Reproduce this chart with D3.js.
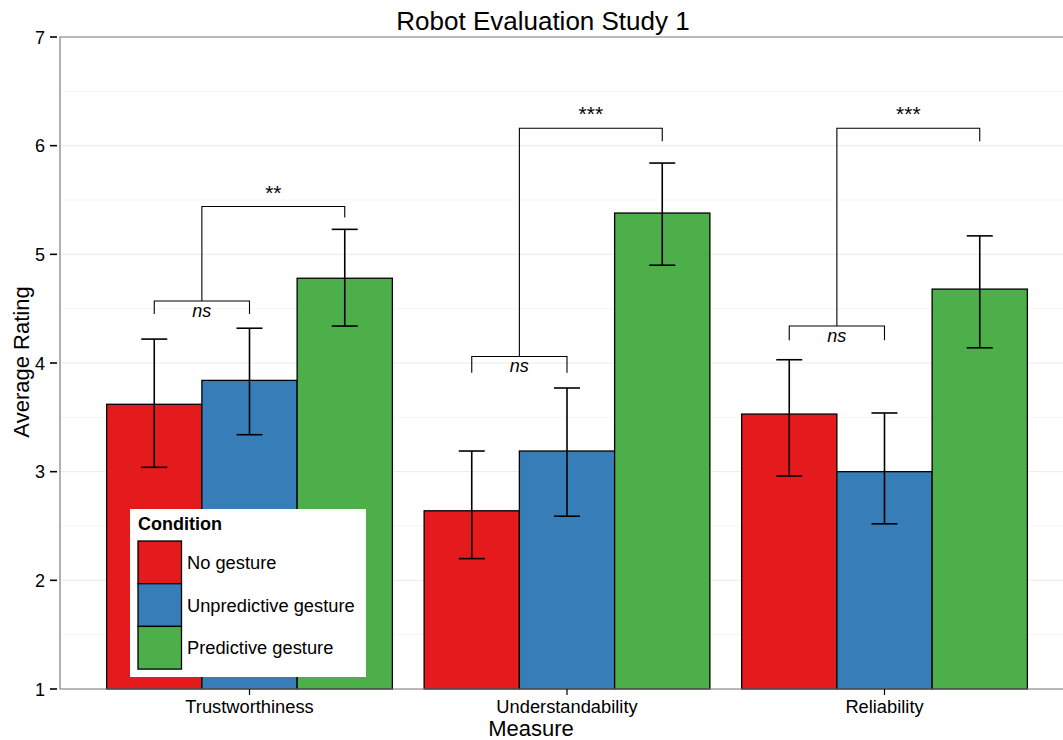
<!DOCTYPE html>
<html><head><meta charset="utf-8">
<script src="https://cdn.jsdelivr.net/npm/d3@7"></script>
<style>body{margin:0;background:#fff}svg{display:block}text{font-family:"Liberation Sans",Arial,Helvetica,sans-serif}</style>
</head><body><svg id="c" width="1063" height="740"></svg>
<script>
const measures = ["Trustworthiness","Understandability","Reliability"];
const conditions = ["No gesture","Unpredictive gesture","Predictive gesture"];
const colors = ["#e41a1c","#377eb8","#4daf4a"];
const means = {
  "No gesture":[3.62,2.64,3.53],
  "Unpredictive gesture":[3.84,3.19,3.00],
  "Predictive gesture":[4.78,5.38,4.68]
};
const lower = {
  "No gesture":[3.04,2.20,2.96],
  "Unpredictive gesture":[3.34,2.59,2.52],
  "Predictive gesture":[4.34,4.90,4.14]
};
const upper = {
  "No gesture":[4.22,3.19,4.03],
  "Unpredictive gesture":[4.32,3.77,3.54],
  "Predictive gesture":[5.23,5.84,5.17]
};
const yTicks = [1,2,3,4,5,6,7];
// significance brackets (positions in bar units from group start)
const brMeasure = ["Trustworthiness","Trustworthiness","Understandability","Understandability","Reliability","Reliability"];
const brFrom = [0.5,1.0,0.5,1.0,0.5,1.0];
const brTo = [1.5,2.5,1.5,2.5,1.5,2.5];
const brY = [4.57,5.44,4.06,6.16,4.34,6.16];
const brLeftEnd = [4.45,4.57,3.91,4.06,4.21,4.34];
const brRightEnd = [4.45,5.34,3.91,6.04,4.21,6.04];
const brLabel = ["ns","**","ns","***","ns","***"];

const svg = d3.select("#c");
const L = 60, T = 37, B = 689, R = 1063;
const X0 = 59, unit = 317.5;
const x = d3.scalePoint().domain(measures).range([X0 + 0.6*unit, X0 + 2.6*unit]);
const groupW = unit * 0.9;
const xs = d3.scaleBand().domain(conditions).range([0, groupW]).padding(0);
const y = d3.scaleLinear().domain([1,7]).range([B, T]);

// grid
const minor = d3.range(1.5, 7, 1);
svg.append("g").selectAll("line").data(minor).join("line")
  .attr("x1", L).attr("x2", R).attr("y1", d=>y(d)).attr("y2", d=>y(d))
  .attr("stroke", "#f5f5f5").attr("stroke-width", 1);
svg.append("g").selectAll("line").data(yTicks).join("line")
  .attr("x1", L).attr("x2", R).attr("y1", d=>y(d)).attr("y2", d=>y(d))
  .attr("stroke", "#ebebeb").attr("stroke-width", 1);

// bars
const bars = [];
measures.forEach((m,i)=>conditions.forEach((c,j)=>bars.push({m,c,j,v:means[c][i],lo:lower[c][i],hi:upper[c][i]})));
const gx = d => x(d.m) - groupW/2 + xs(d.c);
svg.append("g").selectAll("rect").data(bars).join("rect")
  .attr("x", d=>gx(d)).attr("width", xs.bandwidth())
  .attr("y", d=>y(d.v)).attr("height", d=>y(1)-y(d.v))
  .attr("fill", d=>colors[d.j]).attr("stroke", "#000").attr("stroke-width", 1.3);

// error bars
const eb = svg.append("g").attr("stroke","#000").attr("stroke-width",1.6);
bars.forEach(d=>{
  const c = gx(d) + xs.bandwidth()/2, hw = 13;
  eb.append("line").attr("x1",c).attr("x2",c).attr("y1",y(d.lo)).attr("y2",y(d.hi));
  eb.append("line").attr("x1",c-hw).attr("x2",c+hw).attr("y1",y(d.lo)).attr("y2",y(d.lo));
  eb.append("line").attr("x1",c-hw).attr("x2",c+hw).attr("y1",y(d.hi)).attr("y2",y(d.hi));
});

// brackets
const bw = xs.bandwidth();
brMeasure.forEach((m,i)=>{
  const x0 = x(m) - groupW/2 + brFrom[i]*bw, x1 = x(m) - groupW/2 + brTo[i]*bw;
  const yy = y(brY[i]);
  svg.append("path").attr("d",`M${x0},${y(brLeftEnd[i])}V${yy}H${x1}V${y(brRightEnd[i])}`)
    .attr("fill","none").attr("stroke","#000").attr("stroke-width",1.1);
  const ns = brLabel[i]==="ns";
  svg.append("text").attr("x",(x0+x1)/2).attr("y", ns ? yy+16 : yy-7)
    .attr("text-anchor","middle").attr("font-size", ns?18:21)
    .attr("font-style", ns?"italic":"normal")
    .attr("font-family", "'DejaVu Sans',sans-serif")
    .text(brLabel[i]);
});

// panel border/axes
svg.append("path").attr("d",`M${R},${T}H${L}V${B}H${R}`).attr("fill","none").attr("stroke","#7f7f7f").attr("stroke-width",1.2);

// y axis
const ya = svg.append("g");
yTicks.forEach(t=>{
  ya.append("line").attr("x1",L-10).attr("x2",L-3).attr("y1",y(t)).attr("y2",y(t)).attr("stroke","#000").attr("stroke-width",1.6);
  ya.append("text").attr("x",L-15).attr("y",y(t)+6.5).attr("text-anchor","end").attr("font-size",18).text(t);
});
// x axis
measures.forEach(m=>{
  svg.append("line").attr("x1",x(m)).attr("x2",x(m)).attr("y1",B).attr("y2",B+6).attr("stroke","#000").attr("stroke-width",1.2);
  svg.append("text").attr("x",x(m)).attr("y",713).attr("text-anchor","middle").attr("font-size",18.3).text(m);
});

// titles
svg.append("text").attr("x",543).attr("y",30).attr("text-anchor","middle").attr("font-size",26).text("Robot Evaluation Study 1");
svg.append("text").attr("x",531).attr("y",736).attr("text-anchor","middle").attr("font-size",22).text("Measure");
svg.append("text").attr("transform","translate(29,362) rotate(-90)").attr("text-anchor","middle").attr("font-size",22).text("Average Rating");

// legend
const lg = svg.append("g");
lg.append("rect").attr("x",130).attr("y",509).attr("width",236).attr("height",168).attr("fill","#fff");
lg.append("text").attr("x",138).attr("y",530).attr("font-size",18).attr("font-weight","bold").text("Condition");
conditions.forEach((c,i)=>{
  const ky = 541 + i*42.7;
  lg.append("rect").attr("x",138).attr("y",ky).attr("width",43.5).attr("height",42.7)
    .attr("fill",colors[i]).attr("stroke","#000").attr("stroke-width",1.3);
  lg.append("text").attr("x",187).attr("y",ky+28).attr("font-size",18.3).text(c);
});
</script></body></html>
